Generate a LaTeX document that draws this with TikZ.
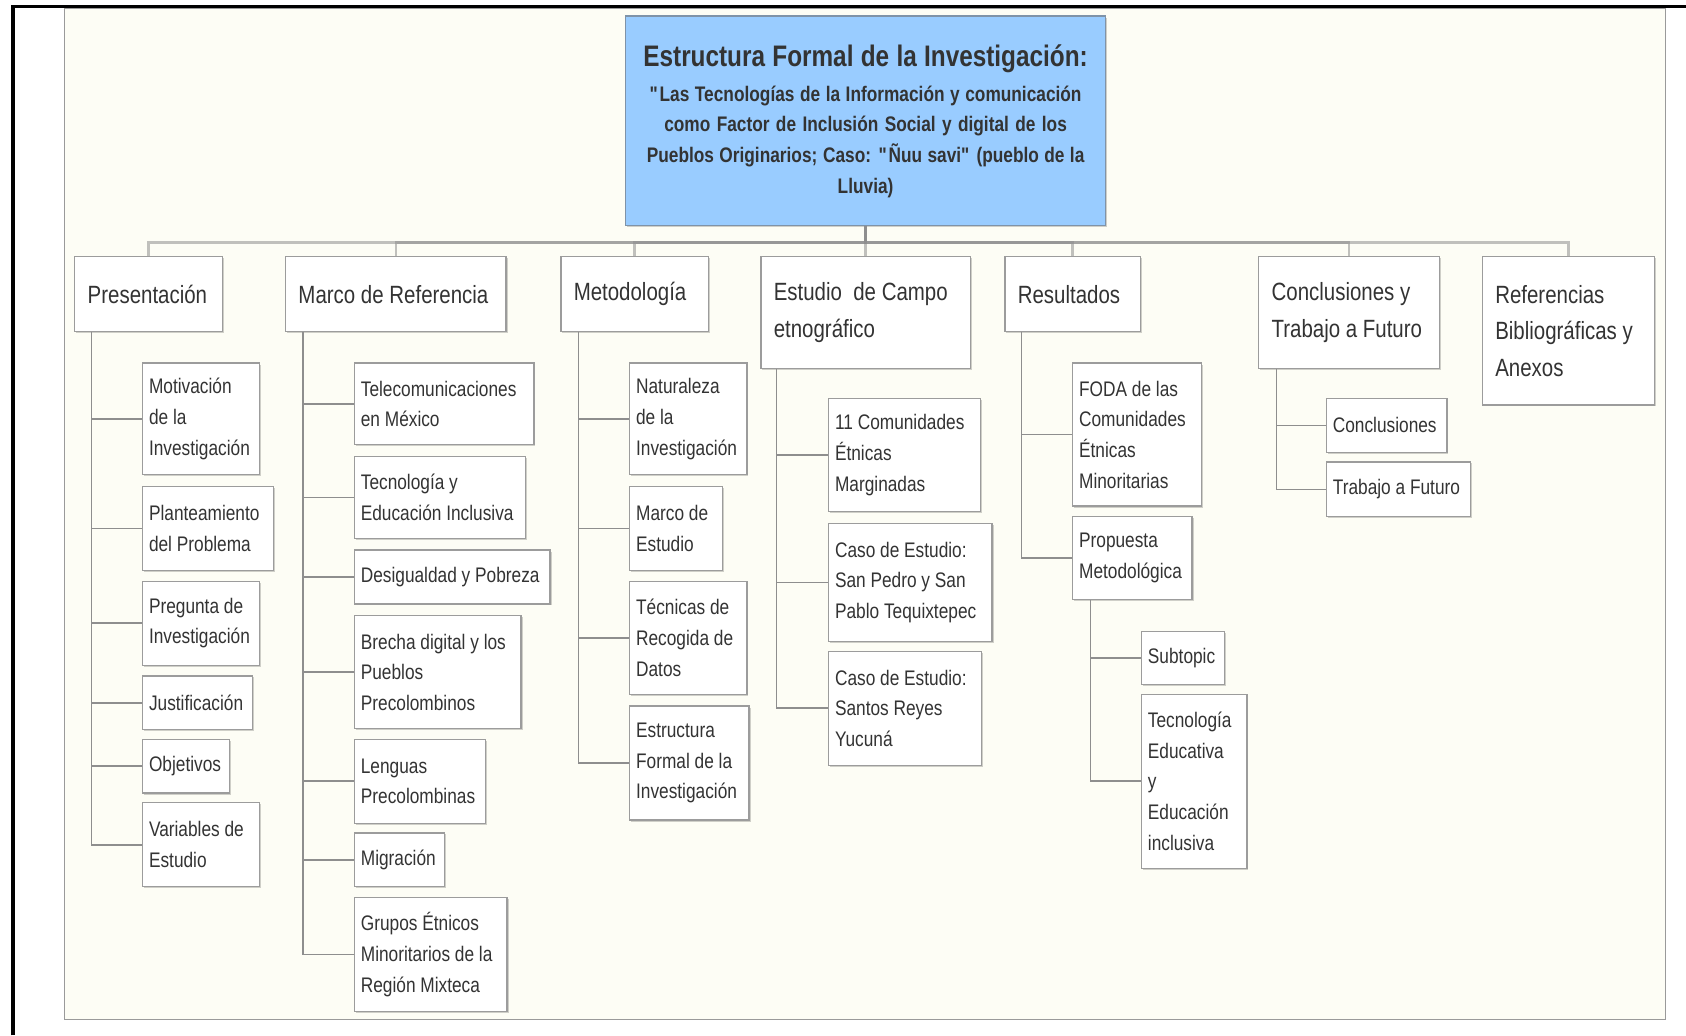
\documentclass[tikz,border=0pt]{standalone}
\usepackage{fontspec}
\setmainfont{Liberation Sans}[FakeStretch=0.82]
\usetikzlibrary{shadows}
\definecolor{ink}{HTML}{333333}
\definecolor{boxline}{HTML}{9C9C9C}
\definecolor{linkgray}{HTML}{8E8E8E}
\definecolor{panel}{HTML}{FDFDF5}
\definecolor{panelline}{HTML}{9A9A9A}
\definecolor{rootfill}{HTML}{99CCFF}
\definecolor{rootline}{HTML}{7F93A8}
\hyphenpenalty=10000

\begin{document}
\begin{tikzpicture}[x=0.5pt,y=-0.5pt]
\tikzset{top/.style={draw=boxline,fill=white,line width=.6pt,anchor=north west,align=left,
    inner xsep=6pt,inner ysep=0pt,text=ink,font=\fontsize{11.6}{17}\selectfont,
    execute at begin node={\spaceskip=0pt\xspaceskip=0pt},
    drop shadow={shadow xshift=.7pt,shadow yshift=-.7pt,fill=black,opacity=.18}},
  sub/.style={top,inner xsep=3pt,font=\fontsize{9.8}{14.25}\selectfont},
  root/.style={draw=rootline,fill=rootfill,line width=.6pt,align=center,text=ink,
    text width=213pt,inner xsep=5pt,minimum height=97.5pt,
    font=\fontsize{9.8}{14.25}\selectfont\bfseries,
    execute at begin node={\spaceskip=0pt\xspaceskip=0pt},
    drop shadow={shadow xshift=.7pt,shadow yshift=-.7pt,fill=black,opacity=.18}},
  bus/.style={draw=linkgray,line width=1.2pt,opacity=.55},
  link/.style={draw=linkgray,line width=.75pt}}

\fill[white] (0,0) rectangle (1568,963);
\useasboundingbox (0,0) rectangle (1568,963);
\path[fill=panel,draw=panelline,line width=.6pt] (60,8) rectangle (1549,948);
\draw[black,line width=1.5pt] (12,963) -- (12,6) -- (1568,6);

\path (805,112.5) node[root] (root) {{\fontsize{13.8}{17}\selectfont Estructura Formal de la Investigación:}\\[2pt]
  \textquotedbl Las Tecnologías de la Información y comunicación\\
  como Factor de Inclusión Social y digital de los\\
  Pueblos Originarios; Caso: \textquotedbl Ñuu savi\textquotedbl{} (pueblo de la\\
  Lluvia)};

\path (69,238) node[top,text width=56.5pt,minimum height=35pt] (pres) {Presentación};
\path (265,238) node[top,text width=90.5pt,minimum height=35pt] (marco) {Marco de Referencia};
\path (521,238) node[top,text width=56.5pt,minimum height=35pt] (met) {Metodología};
\path (707,238) node[top,text width=85.5pt,minimum height=52pt] (est) {Estudio \ de Campo\\etnográfico};
\path (934,238) node[top,text width=51pt,minimum height=35pt] (res) {Resultados};
\path (1170,238) node[top,text width=72pt,minimum height=52pt] (conc) {Conclusiones y\\Trabajo a Futuro};
\path (1378,238) node[top,text width=68pt,minimum height=69pt] (refs) {Referencias\\Bibliográficas y\\Anexos};

\path (132,337) node[sub,text width=48.5pt,minimum height=52pt] (mot) {Motivación\\de la\\Investigación};
\path (132,452) node[sub,text width=55pt,minimum height=39pt] (plan) {Planteamiento\\del Problema};
\path (132,540) node[sub,text width=48.5pt,minimum height=39pt] (preg) {Pregunta de\\Investigación};
\path (132,628) node[sub,text width=45pt,minimum height=25pt] (just) {Justificación};
\path (132,687) node[sub,text width=34.5pt,minimum height=25pt] (obj) {Objetivos};
\path (132,746) node[sub,text width=48.5pt,minimum height=39pt] (var) {Variables de\\Estudio};

\path (329,337) node[sub,text width=77.5pt,minimum height=38pt] (tele) {Telecomunicaciones\\en México};
\path (329,424) node[sub,text width=73.5pt,minimum height=38pt] (tec) {Tecnología y\\Educación Inclusiva};
\path (329,511) node[sub,text width=85pt,minimum height=25pt] (des) {Desigualdad y Pobreza};
\path (329,572) node[sub,text width=71.5pt,minimum height=52.5pt] (bre) {Brecha digital y los\\Pueblos\\Precolombinos};
\path (329,687) node[sub,text width=55pt,minimum height=39pt] (len) {Lenguas\\Precolombinas};
\path (329,774) node[sub,text width=36pt,minimum height=25pt] (mig) {Migración};
\path (329,834) node[sub,text width=65pt,minimum height=53pt] (gru) {Grupos Étnicos\\Minoritarios de la\\Región Mixteca};

\path (585,337) node[sub,text width=48.5pt,minimum height=52pt] (nat) {Naturaleza\\de la\\Investigación};
\path (585,452) node[sub,text width=37pt,minimum height=39pt] (mest) {Marco de\\Estudio};
\path (585,540) node[sub,text width=48.5pt,minimum height=52.5pt] (tecr) {Técnicas de\\Recogida de\\Datos};
\path (585,656) node[sub,text width=49.5pt,minimum height=53pt] (efi) {Estructura\\Formal de la\\Investigación};

\path (770,370) node[sub,text width=64.5pt,minimum height=52.5pt] (com) {11 Comunidades\\Étnicas\\Marginadas};
\path (770,486) node[sub,text width=70pt,minimum height=55pt] (spp) {Caso de Estudio:\\San Pedro y San\\Pablo Tequixtepec};
\path (770,605) node[sub,text width=65pt,minimum height=53pt] (srey) {Caso de Estudio:\\Santos Reyes\\Yucuná};

\path (997,337) node[sub,text width=54pt,minimum height=66.5pt] (foda) {FODA de las\\Comunidades\\Étnicas\\Minoritarias};
\path (997,480) node[sub,text width=49.5pt,minimum height=38.5pt] (prop) {Propuesta\\Metodológica};
\path (1061,587) node[sub,text width=32.5pt,minimum height=24.5pt] (subt) {Subtopic};
\path (1061,645) node[sub,text width=43pt,minimum height=81pt] (tedu) {Tecnología\\Educativa\\y\\Educación\\inclusiva};

\path (1233,370) node[sub,text width=50pt,minimum height=25pt] (concl) {Conclusiones};
\path (1233,429) node[sub,text width=61pt,minimum height=25.5pt] (trab) {Trabajo a Futuro};

\draw[bus] (root.south) -- ++(0,15) -| (pres.north);
\draw[bus] (root.south) -- ++(0,15) -| (marco.north);
\draw[bus] (root.south) -- ++(0,15) -| (met.north);
\draw[bus] (root.south) -- ++(0,15) -| (est.north);
\draw[bus] (root.south) -- ++(0,15) -| (res.north);
\draw[bus] (root.south) -- ++(0,15) -| (conc.north);
\draw[bus] (root.south) -- ++(0,15) -| (refs.north);

\draw[link] ([xshift=8pt]pres.south west) |- (mot.west);
\draw[link] ([xshift=8pt]pres.south west) |- (plan.west);
\draw[link] ([xshift=8pt]pres.south west) |- (preg.west);
\draw[link] ([xshift=8pt]pres.south west) |- (just.west);
\draw[link] ([xshift=8pt]pres.south west) |- (obj.west);
\draw[link] ([xshift=8pt]pres.south west) |- (var.west);

\draw[link] ([xshift=8.5pt]marco.south west) |- (tele.west);
\draw[link] ([xshift=8.5pt]marco.south west) |- (tec.west);
\draw[link] ([xshift=8.5pt]marco.south west) |- (des.west);
\draw[link] ([xshift=8.5pt]marco.south west) |- (bre.west);
\draw[link] ([xshift=8.5pt]marco.south west) |- (len.west);
\draw[link] ([xshift=8.5pt]marco.south west) |- (mig.west);
\draw[link] ([xshift=8.5pt]marco.south west) |- (gru.west);

\draw[link] ([xshift=8.5pt]met.south west) |- (nat.west);
\draw[link] ([xshift=8.5pt]met.south west) |- (mest.west);
\draw[link] ([xshift=8.5pt]met.south west) |- (tecr.west);
\draw[link] ([xshift=8.5pt]met.south west) |- (efi.west);

\draw[link] ([xshift=7.5pt]est.south west) |- (com.west);
\draw[link] ([xshift=7.5pt]est.south west) |- (spp.west);
\draw[link] ([xshift=7.5pt]est.south west) |- (srey.west);

\draw[link] ([xshift=8pt]res.south west) |- (foda.west);
\draw[link] ([xshift=8pt]res.south west) |- (prop.west);

\draw[link] ([xshift=8.5pt]prop.south west) |- (subt.west);
\draw[link] ([xshift=8.5pt]prop.south west) |- (tedu.west);

\draw[link] ([xshift=8.5pt]conc.south west) |- (concl.west);
\draw[link] ([xshift=8.5pt]conc.south west) |- (trab.west);
\end{tikzpicture}
\end{document}
